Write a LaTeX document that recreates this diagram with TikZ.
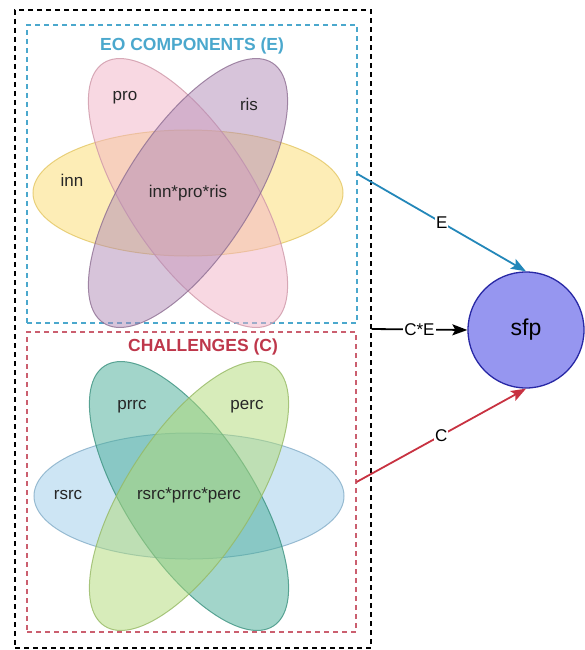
\documentclass[tikz,border=0pt]{standalone}
\usepackage{fontspec}
\setmainfont{Liberation Sans}
\usepackage{tikz}
\usetikzlibrary{shapes.geometric}
\usetikzlibrary{positioning}
\usetikzlibrary{arrows.meta}
\definecolor{eoblue}{RGB}{75,168,205}
\definecolor{chred}{RGB}{190,55,75}
\definecolor{arrblue}{RGB}{35,135,185}
\definecolor{arrred}{RGB}{200,50,65}
\definecolor{setyellow}{RGB}{252,220,110}
\definecolor{setpink}{RGB}{242,178,198}
\definecolor{setpurple}{RGB}{176,138,182}
\definecolor{setblue}{RGB}{155,204,234}
\definecolor{setteal}{RGB}{70,172,150}
\definecolor{setgreen}{RGB}{176,218,118}
\definecolor{sfpfill}{RGB}{150,150,240}
\definecolor{sfpline}{RGB}{40,40,165}

\begin{document}
\begin{tikzpicture}[
            x = 1pt, y = -1pt, % pixel grid, y pointing down
            > = {Stealth[length=15pt, width=11pt, inset=3pt]}, % arrow head style
            line width = 1.8pt % line style
        ]

        \tikzstyle{set}=[
            ellipse,
            draw,
            line width = 1pt,
            fill opacity = 0.5,
            draw opacity = 0.8,
            minimum width = 310pt,
            minimum height = 126pt,
            inner sep = 0pt
        ]
        \tikzstyle{box}=[
            rectangle,
            draw,
            dash pattern = on 5pt off 4pt,
            line width = 1.1pt,
            inner sep = 0pt
        ]
        \tikzstyle{lbl}=[font=\fontsize{17}{19}\selectfont, text=black!85]
        \tikzstyle{title}=[font=\fontsize{17.5}{20}\selectfont\bfseries]
        \tikzstyle{edgelbl}=[fill=white, inner sep=1pt, font=\fontsize{17}{19}\selectfont]

        \useasboundingbox (0,0) rectangle (584,650);

	% boxes
        \node[box, minimum width=356pt, minimum height=638pt] (all) at (193,329) {};
        \node[box, draw=eoblue, minimum width=330pt, minimum height=298pt] (Ebox) at (192,174) {};
        \node[box, draw=chred!80, minimum width=329pt, minimum height=300pt] (Cbox) at (191.5,482) {};

        \node[title, text=eoblue] (Etitle) at (192,46) {EO COMPONENTS (E)};
        \node[title, text=chred] (Ctitle) at (203,347) {CHALLENGES (C)};

	% EO components
        \node[set, fill=setyellow, draw=setyellow!90!black] (inn) at (188,193) {};
        \node[set, fill=setpink, draw=setpink!85!black, rotate=-57] (pro) at (188,193) {};
        \node[set, fill=setpurple, draw=setpurple!80!black, rotate=57] (ris) at (188,193) {};

        \node[lbl] (Lpro) at (125,98) {pro};
        \node[lbl] (Lris) at (249,104) {ris};
        \node[lbl] (Linn) at (72,180) {inn};
        \node[lbl] (Lipr) at (188,193) {inn*pro*ris};

	% challenges
        \node[set, fill=setblue, draw=setblue!85!black] (rsrc) at (189,496) {};
        \node[set, fill=setteal, draw=setteal!85!black, rotate=-57] (prrc) at (189,496) {};
        \node[set, fill=setgreen, draw=setgreen!85!black, rotate=57] (perc) at (189,496) {};

        \node[lbl] (Lprrc) at (132,407) {prrc};
        \node[lbl] (Lperc) at (247,407) {perc};
        \node[lbl] (Lrsrc) at (68,495) {rsrc};
        \node[lbl] (Lrpp) at (189,495) {rsrc*prrc*perc};

	% outcome
        \node[circle, draw=sfpline, line width=1.3pt, fill=sfpfill, minimum size=116pt,
              font=\fontsize{23}{26}\selectfont] (sfp) at (526,330) {sfp};

        \draw[->, arrblue] (Ebox.east) -- node[edgelbl, text=black] {E} (sfp.north);
        \draw[->, black] (all.east) -- node[edgelbl] {C*E} (sfp.west);
        \draw[->, arrred] (Cbox.east) -- node[edgelbl, text=black] {C} (sfp.south);

  \end{tikzpicture}
\end{document}
